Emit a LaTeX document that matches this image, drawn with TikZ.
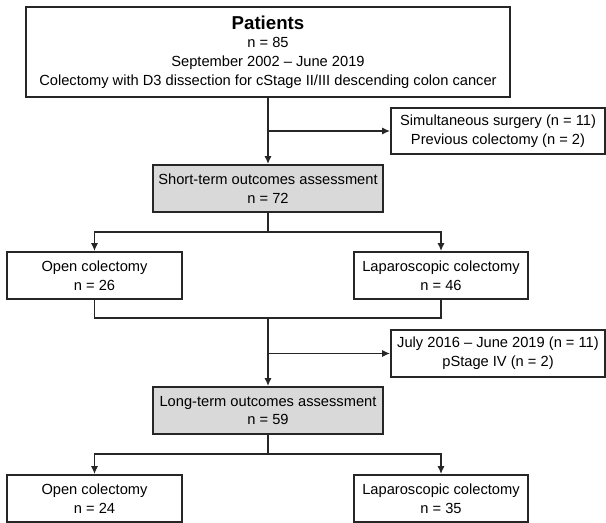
\documentclass[tikz,border=0pt]{standalone}
\usepackage{fontspec}
\setmainfont{Liberation Sans}
\usetikzlibrary{arrows.meta}
\tikzset{
  box/.style={draw=black!85, line width=1.4pt, fill=white, inner sep=0pt, align=center,
    font=\fontsize{11}{14}\selectfont},
  graybox/.style={box, fill=black!15},
  conn/.style={draw=black!85, line width=1.3pt},
  arr/.style={conn, -{Latex[length=6pt,width=5.5pt]}},
}
\begin{document}
\begin{tikzpicture}[x=0.75pt,y=-0.75pt]
\useasboundingbox (0,0) rectangle (606,523);
\node[box, minimum width=484*0.75pt, minimum height=90*0.75pt] (top) at (268,52)
  {{\fontsize{14}{16}\selectfont\bfseries Patients}\\ n = 85\\ September 2002 -- June 2019\\ Colectomy with D3 dissection for cStage II/III descending colon cancer};
\node[box, minimum width=214*0.75pt, minimum height=46*0.75pt] (side1) at (498,131)
  {Simultaneous surgery (n = 11)\\ Previous colectomy (n = 2)};
\node[graybox, minimum width=230*0.75pt, minimum height=47*0.75pt] (short) at (268,188.5)
  {Short-term outcomes assessment\\ n = 72};
\node[box, minimum width=175*0.75pt, minimum height=47*0.75pt] (open1) at (94.5,275.5)
  {Open colectomy\\ n = 26};
\node[box, minimum width=174*0.75pt, minimum height=47*0.75pt] (lap1) at (441,275.5)
  {Laparoscopic colectomy\\ n = 46};
\node[box, minimum width=214*0.75pt, minimum height=47*0.75pt] (side2) at (498,353.5)
  {July 2016 -- June 2019 (n = 11)\\ pStage IV (n = 2)};
\node[graybox, minimum width=230*0.75pt, minimum height=47*0.75pt] (long) at (268,410.5)
  {Long-term outcomes assessment\\ n = 59};
\node[box, minimum width=175*0.75pt, minimum height=47*0.75pt] (open2) at (94.5,498.5)
  {Open colectomy\\ n = 24};
\node[box, minimum width=174*0.75pt, minimum height=47*0.75pt] (lap2) at (441,498.5)
  {Laparoscopic colectomy\\ n = 35};

\coordinate (b1) at (268,131);
\coordinate (s1) at (268,232);
\coordinate (m1) at (268,318);
\coordinate (b2) at (268,353.5);
\coordinate (s2) at (268,454);

\draw[arr] (top.south) -- (short.north);
\draw[arr] (b1) -- (side1.west);
\draw[conn] (short.south) -- (s1);
\draw[arr] (s1) -| (open1.north);
\draw[arr] (s1) -| (lap1.north);
\draw[conn] (open1.south) |- (m1) -| (lap1.south);
\draw[arr] (m1) -- (long.north);
\draw[arr] (b2) -- (side2.west);
\draw[conn] (long.south) -- (s2);
\draw[arr] (s2) -| (open2.north);
\draw[arr] (s2) -| (lap2.north);
\end{tikzpicture}
\end{document}
